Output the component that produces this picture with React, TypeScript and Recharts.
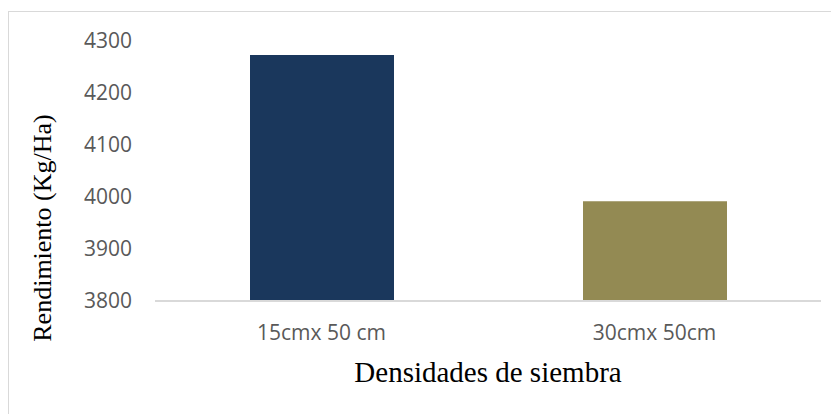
import { Bar, BarChart, Cell, Label, XAxis, YAxis } from "recharts";

const categories = ["15cmx 50 cm", "30cmx 50cm"];
const rendimiento = [4273, 3992];
const barColors = ["#1a375c", "#938a53"];
const yTicks = [3800, 3900, 4000, 4100, 4200, 4300];

const data = categories.map((name, i) => ({ name, value: rendimiento[i] }));

const tickStyle = { fill: "#595959", fontSize: 21, fontFamily: "'Open Sans', sans-serif" };
const titleFont = "'Liberation Serif', 'Times New Roman', serif";

export default function App() {
  return (
    <div
      style={{
        marginTop: 3,
        width: 831,
        height: 403,
        borderTop: "1px solid #d9d9d9",
        borderLeft: "1px solid #d9d9d9",
        background: "#fff"
      }}
    >
      <BarChart width={830} height={402} data={data} margin={{ top: 29, right: 18, bottom: 0, left: 0 }}>
        <XAxis
          dataKey="name"
          height={113}
          tickLine={false}
          tickSize={0}
          tickMargin={24}
          axisLine={{ stroke: "#d9d9d9", strokeWidth: 2 }}
          tick={tickStyle}
        >
          <Label
            content={({ viewBox }: any) => (
              <text
                x={viewBox.x + viewBox.width / 2}
                y={viewBox.y + 81}
                textAnchor="middle"
                fontFamily={titleFont}
                fontSize={29}
                fill="#000"
              >
                Densidades de siembra
              </text>
            )}
          />
        </XAxis>
        <YAxis
          width={146}
          domain={[3800, 4300]}
          ticks={yTicks}
          axisLine={false}
          tickLine={false}
          tickSize={0}
          tickMargin={23}
          tick={tickStyle}
        >
          <Label
            content={({ viewBox }: any) => {
              const x = 33;
              const y = viewBox.y + viewBox.height / 2 + 57;
              return (
                <text
                  x={x}
                  y={y}
                  transform={`rotate(-90, ${x}, ${y})`}
                  textAnchor="middle"
                  dominantBaseline="central"
                  fontFamily={titleFont}
                  fontSize={26}
                  fill="#000"
                >
                  Rendimiento (Kg/Ha)
                </text>
              );
            }}
          />
        </YAxis>
        <Bar dataKey="value" barSize={144} isAnimationActive={false}>
          {data.map((d, i) => (
            <Cell key={d.name} fill={barColors[i]} />
          ))}
        </Bar>
      </BarChart>
    </div>
  );
}
